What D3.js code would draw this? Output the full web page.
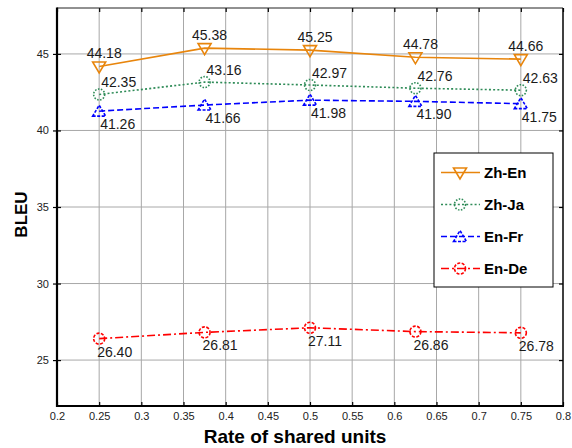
<!DOCTYPE html>
<html><head><meta charset="utf-8">
<script src="https://cdn.jsdelivr.net/npm/d3@7"></script>
<style>body{margin:0;background:#fff}svg{display:block}</style>
</head><body>
<svg id="c" width="572" height="448"></svg>
<script>
const rates = [0.25, 0.375, 0.5, 0.625, 0.75];
const zhEn = [44.18, 45.38, 45.25, 44.78, 44.66];
const zhJa = [42.35, 43.16, 42.97, 42.76, 42.63];
const enFr = [41.26, 41.66, 41.98, 41.90, 41.75];
const enDe = [26.40, 26.81, 27.11, 26.86, 26.78];
const seriesNames = ["Zh-En", "Zh-Ja", "En-Fr", "En-De"];
const xTicks = [0.2,0.25,0.3,0.35,0.4,0.45,0.5,0.55,0.6,0.65,0.7,0.75,0.8];
const yTicks = [25,30,35,40,45];

const styles = [
  {color:"#E8850C", dash:null, marker:"down", mdash:null, dx:5, dy:-8, anchor:"middle"},
  {color:"#2E8B57", dash:"2,2.2", marker:"circle", mdash:"1.5,1.5", dx:2, dy:-7, anchor:"start"},
  {color:"#0000FF", dash:"6,3", marker:"up", mdash:"3,1.5", dx:1, dy:18, anchor:"start"},
  {color:"#FF0000", dash:"8,3,2,3", marker:"circle", mdash:"3,1.5", dx:-2, dy:18, anchor:"start"}
];
const data = [zhEn, zhJa, enFr, enDe];

const svg = d3.select("#c");
const L=57, R=563, T=8, B=406;
const x = d3.scaleLinear().domain([0.2,0.8]).range([L,R]);
const y = d3.scaleLinear().domain([22,48]).range([B,T]);

// grid
const g = svg.append("g");
g.selectAll(".gx").data(xTicks.slice(1,-1)).enter().append("line")
  .attr("x1",d=>x(d)).attr("x2",d=>x(d)).attr("y1",T).attr("y2",B)
  .attr("stroke","#a8a8a8").attr("stroke-width",1);
g.selectAll(".gy").data(yTicks).enter().append("line")
  .attr("y1",d=>y(d)).attr("y2",d=>y(d)).attr("x1",L).attr("x2",R)
  .attr("stroke","#a8a8a8").attr("stroke-width",1);

// axes
const fontTick = "Liberation Sans, Arial, sans-serif";
const xAxis = svg.append("g").attr("transform",`translate(0,${B})`)
  .call(d3.axisBottom(x).tickValues(xTicks).tickSize(-4).tickPadding(6).tickFormat(d=>String(+d.toFixed(2))));
const xTop = svg.append("g").attr("transform",`translate(0,${T})`)
  .call(d3.axisTop(x).tickValues(xTicks).tickSize(-4).tickFormat(""));
const yAxis = svg.append("g").attr("transform",`translate(${L},0)`)
  .call(d3.axisLeft(y).tickValues(yTicks).tickSize(4).tickPadding(4));
const yRight = svg.append("g").attr("transform",`translate(${R},0)`)
  .call(d3.axisRight(y).tickValues(yTicks).tickSize(-4).tickFormat(""));
[xAxis,xTop,yAxis,yRight].forEach(a=>{
  a.selectAll("text").attr("font-family",fontTick).attr("font-size","11px").attr("fill","#222");
  a.selectAll(".tick line").attr("stroke","#000").attr("stroke-width",1.2);
  a.select(".domain").remove();
});
yAxis.selectAll(".tick").append("line").attr("x1",0).attr("x2",4).attr("stroke","#000").attr("stroke-width",1.2);
xAxis.selectAll("text").attr("dy","0.71em");

svg.append("line").attr("x1",L).attr("x2",R).attr("y1",T).attr("y2",T).attr("stroke","#222").attr("stroke-width",1);
svg.append("line").attr("x1",R).attr("x2",R).attr("y1",T).attr("y2",B).attr("stroke","#000").attr("stroke-width",1.5);
svg.append("line").attr("x1",L).attr("x2",L).attr("y1",T-0.5).attr("y2",B+1).attr("stroke","#000").attr("stroke-width",2.2);
svg.append("line").attr("x1",L-1).attr("x2",R+1).attr("y1",B).attr("y2",B).attr("stroke","#000").attr("stroke-width",2.2);

function markerPath(type){
  if(type==="down") return "M-6.5,-4.5L6.5,-4.5L0,6.5Z";
  return "M-6.5,5L6.5,5L0,-6Z";
}
function drawMarker(sel, st){
  if(st.marker==="circle"){
    sel.append("circle").attr("r",5.5).attr("fill","none").attr("stroke",st.color)
      .attr("stroke-width",1.6).attr("stroke-dasharray",st.mdash);
  } else {
    sel.append("path").attr("d",markerPath(st.marker)).attr("fill","none").attr("stroke",st.color)
      .attr("stroke-width",1.6).attr("stroke-dasharray",st.mdash);
  }
}

const line = d3.line().x((d,i)=>x(rates[i])).y(d=>y(d));
data.forEach((vals,si)=>{
  const st = styles[si];
  svg.append("path").attr("d",line(vals)).attr("fill","none").attr("stroke",st.color)
    .attr("stroke-width",1.6).attr("stroke-dasharray",st.dash);
  vals.forEach((v,i)=>{
    const m = svg.append("g").attr("transform",`translate(${x(rates[i])},${y(v)})`);
    drawMarker(m, st);
    svg.append("text").attr("x",x(rates[i])+st.dx).attr("y",y(v)+st.dy)
      .attr("text-anchor",st.anchor).attr("font-family",fontTick).attr("font-size","14px")
      .attr("fill","#1a1a1a").text(v.toFixed(2));
  });
});

// legend
const lg = svg.append("g");
lg.append("rect").attr("x",434).attr("y",153).attr("width",119).attr("height",134)
  .attr("fill","#fff").attr("stroke","#000").attr("stroke-width",1);
seriesNames.forEach((n,i)=>{
  const st = styles[i];
  const ly = 172.5 + i*32;
  lg.append("line").attr("x1",441).attr("x2",480).attr("y1",ly).attr("y2",ly)
    .attr("stroke",st.color).attr("stroke-width",1.6).attr("stroke-dasharray",st.dash);
  drawMarker(lg.append("g").attr("transform",`translate(460,${ly})`), st);
  lg.append("text").attr("x",484).attr("y",ly).attr("dy","0.36em")
    .attr("font-family",fontTick).attr("font-weight","bold").attr("font-size","15px")
    .attr("fill","#000").text(n);
});

// titles
svg.append("text").attr("x",295).attr("y",443).attr("text-anchor","middle")
  .attr("font-family",fontTick).attr("font-weight","bold").attr("font-size","19px").text("Rate of shared units");
svg.append("text").attr("transform","translate(27,214.5) rotate(-90)").attr("text-anchor","middle")
  .attr("font-family",fontTick).attr("font-weight","bold").attr("font-size","17px").text("BLEU");
</script>
</body></html>
